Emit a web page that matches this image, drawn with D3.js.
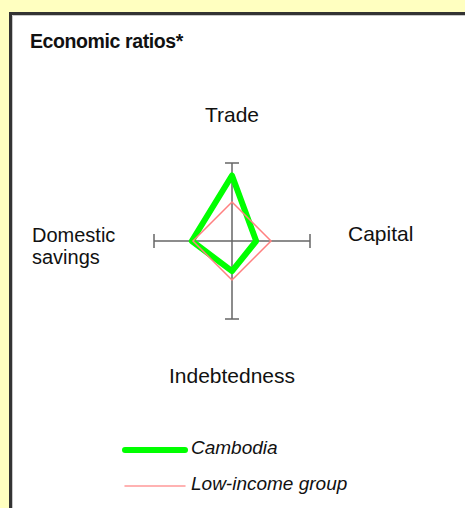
<!DOCTYPE html>
<html>
<head>
<meta charset="utf-8">
<script src="https://cdn.jsdelivr.net/npm/d3@7"></script>
<style>
  body { margin:0; background:#ffffc0; }
  svg { display:block; font-family:"Liberation Sans", Arial, sans-serif; }
</style>
</head>
<body>
<svg id="chart"></svg>
<script>
// axes go clockwise from the top
var axes=["Trade","Capital","Indebtedness","Domestic savings"]
var cambodia=[1.68,0.62,0.77,1.03]
var lowIncome=[1,1,1,1]
var seriesNames=["Cambodia","Low-income group"]

var screen={width:465,height:508}
var center={x:232,y:241}

var svg=d3.select("#chart")
          .attr("width",screen.width)
          .attr("height",screen.height);

// white panel with dark frame, runs off the right and bottom edge
svg.append("rect")
   .attr("x",10.5).attr("y",13.5)
   .attr("width",500).attr("height",540)
   .attr("fill","#fff")
   .attr("stroke","#333")
   .attr("stroke-width",3);
svg.append("path")
   .attr("d","M12.5,560V15.5H520")
   .attr("fill","none")
   .attr("stroke","#c8c8c8")
   .attr("stroke-width",1);

svg.append("text")
   .attr("x",30).attr("y",48)
   .attr("font-size",19.5)
   .attr("font-weight","bold")
   .attr("letter-spacing",-0.4)
   .attr("fill","#111")
   .text("Economic ratios*");

var r=d3.scaleLinear().domain([0,2]).range([0,78]);
var angle=function(i){return i*Math.PI/2;}
var point=function(v,i){return [center.x+r(v)*Math.sin(angle(i)),center.y-r(v)*Math.cos(angle(i))];}

var g=svg.append("g");

// axis lines with end caps
axes.forEach(function(a,i)
{
  var end=point(2,i);
  g.append("line")
   .attr("x1",center.x).attr("y1",center.y)
   .attr("x2",end[0]).attr("y2",end[1])
   .attr("stroke","#666").attr("stroke-width",1.5);
  var dx=7*Math.cos(angle(i)), dy=7*Math.sin(angle(i));
  g.append("line")
   .attr("x1",end[0]-dx).attr("y1",end[1]-dy)
   .attr("x2",end[0]+dx).attr("y2",end[1]+dy)
   .attr("stroke","#666").attr("stroke-width",1.5);
})

var line=d3.line().curve(d3.curveLinearClosed);

g.append("path")
 .attr("d",line(cambodia.map(point)))
 .attr("fill","none")
 .attr("stroke","#00ff00")
 .attr("stroke-width",6)
 .attr("stroke-linejoin","round");

g.append("path")
 .attr("d",line(lowIncome.map(point)))
 .attr("fill","none")
 .attr("stroke","#ff8080")
 .attr("stroke-width",1.5);

// axis labels
var labelFont=21;
svg.append("text").attr("x",center.x).attr("y",122)
   .attr("text-anchor","middle").attr("font-size",labelFont).attr("fill","#111").text(axes[0]);
svg.append("text").attr("x",348).attr("y",241)
   .attr("font-size",labelFont).attr("fill","#111").text(axes[1]);
svg.append("text").attr("x",center.x).attr("y",383)
   .attr("text-anchor","middle").attr("font-size",labelFont).attr("fill","#111").text(axes[2]);
// two-line label, a touch smaller so the lines don't collide
axes[3].split(" ").forEach(function(w,k)
{
  svg.append("text").attr("x",32).attr("y",242+k*22)
     .attr("font-size",20).attr("fill","#111").text(w);
})

// legend
var legend=svg.append("g");
var legendStyle=[{color:"#00ff00",width:6,y:450},{color:"#ff9999",width:1.5,y:486}];
seriesNames.forEach(function(name,i)
{
  var s=legendStyle[i];
  legend.append("line")
        .attr("x1",125).attr("x2",185)
        .attr("y1",s.y).attr("y2",s.y)
        .attr("stroke",s.color).attr("stroke-width",s.width)
        .attr("stroke-linecap","round");
  legend.append("text")
        .attr("x",191).attr("y",s.y+4)
        .attr("font-size",19)
        .attr("font-style","italic")
        .attr("fill","#111")
        .text(name);
})
</script>
</body>
</html>
